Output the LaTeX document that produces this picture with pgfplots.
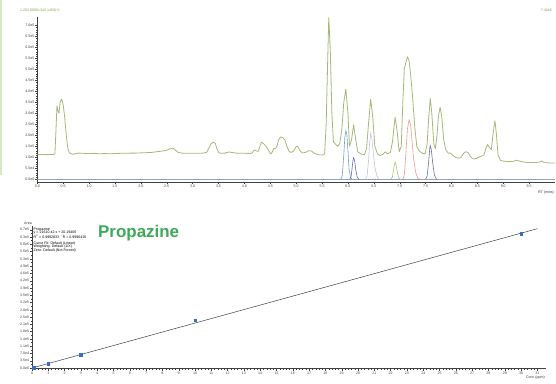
\documentclass[border=0pt]{standalone}
\usepackage{fontspec}
\setmainfont{Liberation Sans}
\usepackage{pgfplots}
\pgfplotsset{compat=1.18}
\definecolor{trace}{RGB}{165,184,122}
\definecolor{strip}{RGB}{212,234,196}
\definecolor{pblue}{RGB}{110,160,215}
\definecolor{pdblue}{RGB}{95,110,180}
\definecolor{pgrey}{RGB}{195,195,218}
\definecolor{pgreen}{RGB}{170,195,130}
\definecolor{psalmon}{RGB}{235,160,140}
\definecolor{pslate}{RGB}{105,110,155}
\definecolor{basel}{RGB}{140,165,200}
\definecolor{lbl}{RGB}{130,160,80}
\definecolor{propgreen}{RGB}{60,170,90}
\definecolor{mark}{RGB}{55,110,190}
\newcommand{\tk}{\fontsize{3.6}{4}\selectfont}
\begin{document}
\begin{tikzpicture}[x=1bp,y=1bp]
\path[use as bounding box] (0,0) rectangle (556,383);
\fill[strip] (0,208) rectangle (2,383);
\node[anchor=base west, text=lbl, font=\tk, inner sep=0] at (20,372) {1:202.0800>343.1459(+)};
\node[anchor=base east, text=lbl, font=\tk, inner sep=0] at (552,372) {7.40e5};
\begin{axis}[
  at={(37.3bp,201bp)}, anchor=south west, scale only axis,
  width=517.7bp, height=165bp,
  xmin=0, xmax=10.0, ymin=-0.123, ymax=7.377,
  axis lines=left, axis line style={-, black!75, line width=0.4bp},
  tick align=outside, major tick length=2bp, minor tick length=1.2bp,
  tick style={black!75, line width=0.3bp},
  scaled ticks=false,
  xtick={0,0.5,...,9.6},
  xticklabels={0.0,0.5,1.0,1.5,2.0,2.5,3.0,3.5,4.0,4.5,5.0,5.5,6.0,6.5,7.0,7.5,8.0,8.5,9.0,9.5},
  minor x tick num=4,
  ytick={0,0.5,...,7.01},
  yticklabels={0.0e0,5.0e4,1.0e5,1.5e5,2.0e5,2.5e5,3.0e5,3.5e5,4.0e5,4.5e5,5.0e5,5.5e5,6.0e5,6.5e5,7.0e5},
  minor y tick num=4,
  tick label style={font=\tk, text=black!75, inner sep=0.8bp},
]
\addplot[basel, line width=0.6bp] coordinates {(0,0) (10,0)};
\addplot[pblue, line width=0.6bp] coordinates {(5.86,0) (5.89,0.15) (5.92,1.1) (5.94,1.9) (5.96,2.2) (5.98,2.05) (6.00,1.3) (6.02,0.5) (6.05,0.08) (6.08,0)};
\addplot[pdblue, line width=0.6bp] coordinates {(6.03,0) (6.06,0.1) (6.08,0.5) (6.10,0.9) (6.11,0.98) (6.13,0.85) (6.15,0.45) (6.18,0.1) (6.21,0)};
\addplot[pgrey, line width=0.6bp] coordinates {(6.34,0) (6.37,0.15) (6.40,0.9) (6.42,1.7) (6.44,2.09) (6.46,1.9) (6.49,1.2) (6.52,0.55) (6.56,0.15) (6.60,0)};
\addplot[pgreen, line width=0.6bp] coordinates {(6.83,0) (6.86,0.1) (6.88,0.45) (6.91,0.79) (6.93,0.65) (6.96,0.25) (6.99,0.03) (7.02,0)};
\addplot[psalmon, line width=0.6bp] coordinates {(7.06,0) (7.09,0.2) (7.12,1.2) (7.15,2.3) (7.18,2.7) (7.21,2.5) (7.24,1.7) (7.27,0.9) (7.31,0.3) (7.35,0.05) (7.40,0)};
\addplot[pslate, line width=0.6bp] coordinates {(7.50,0) (7.53,0.15) (7.56,0.8) (7.58,1.4) (7.59,1.53) (7.61,1.35) (7.64,0.7) (7.67,0.2) (7.71,0)};
\addplot[trace, line width=0.8bp, line join=round] coordinates {
(0.00,1.12) (0.10,1.13) (0.20,1.12) (0.30,1.13) (0.34,1.15) (0.36,2.2) (0.38,3.35) (0.40,3.1) (0.42,3.0) (0.44,3.5) (0.47,3.65) (0.50,3.4) (0.53,2.8) (0.56,2.0) (0.59,1.4) (0.62,1.2) (0.66,1.15) (0.70,1.14) (0.75,1.17) (0.80,1.19) (0.90,1.18) (1.00,1.17) (1.10,1.18) (1.20,1.16) (1.30,1.17) (1.40,1.16) (1.50,1.17) (1.60,1.18) (1.70,1.18) (1.80,1.19) (1.90,1.19) (2.00,1.20) (2.10,1.21) (2.20,1.22) (2.30,1.25) (2.40,1.28) (2.50,1.32) (2.56,1.38) (2.62,1.42) (2.67,1.32) (2.72,1.22) (2.80,1.19) (2.90,1.18) (3.00,1.18) (3.10,1.18) (3.20,1.19) (3.27,1.22) (3.31,1.40) (3.35,1.60) (3.40,1.69) (3.44,1.62) (3.47,1.38) (3.51,1.20) (3.55,1.18) (3.62,1.19) (3.70,1.24) (3.76,1.22) (3.85,1.19) (3.95,1.18) (4.05,1.18) (4.10,1.16) (4.15,1.20) (4.19,1.33) (4.23,1.29) (4.27,1.27) (4.30,1.50) (4.33,1.69) (4.37,1.62) (4.42,1.50) (4.47,1.30) (4.51,1.15) (4.54,1.25) (4.57,1.40) (4.60,1.40) (4.63,1.50) (4.66,1.80) (4.70,1.92) (4.74,1.90) (4.78,1.80) (4.82,1.50) (4.86,1.28) (4.90,1.22) (4.95,1.28) (5.00,1.48) (5.03,1.50) (5.07,1.30) (5.12,1.20) (5.18,1.22) (5.24,1.30) (5.30,1.28) (5.35,1.18) (5.42,1.12) (5.50,1.10) (5.55,1.15) (5.58,2.5) (5.61,5.5) (5.63,7.35) (5.66,5.8) (5.69,3.0) (5.72,1.70) (5.76,1.60) (5.80,1.50) (5.84,1.62) (5.88,2.2) (5.92,3.5) (5.96,4.10) (6.00,3.0) (6.03,1.50) (6.07,1.80) (6.11,2.48) (6.15,1.80) (6.19,1.25) (6.25,1.15) (6.32,1.12) (6.36,1.40) (6.40,2.6) (6.44,3.64) (6.48,2.8) (6.52,1.50) (6.57,1.15) (6.62,1.08) (6.68,1.14) (6.72,1.25) (6.76,1.16) (6.82,1.22) (6.86,1.70) (6.91,2.82) (6.95,2.2) (6.99,1.25) (7.03,1.50) (7.06,3.5) (7.09,5.04) (7.13,5.40) (7.15,5.57) (7.18,5.40) (7.21,4.8) (7.25,3.7) (7.29,2.4) (7.33,1.50) (7.38,1.28) (7.44,1.18) (7.49,1.16) (7.53,1.6) (7.56,2.8) (7.59,3.68) (7.62,3.0) (7.66,1.6) (7.69,1.40) (7.72,2.0) (7.75,2.9) (7.78,3.27) (7.81,2.9) (7.85,1.8) (7.89,1.35) (7.94,1.18) (7.98,1.20) (8.02,1.10) (8.08,1.00) (8.13,0.96) (8.18,0.98) (8.24,1.20) (8.28,1.25) (8.32,1.22) (8.36,1.05) (8.42,0.92) (8.48,0.95) (8.54,1.02) (8.58,1.05) (8.63,1.12) (8.67,1.45) (8.70,1.58) (8.73,1.45) (8.77,1.35) (8.81,2.2) (8.84,2.66) (8.87,2.0) (8.90,1.1) (8.95,0.85) (9.00,0.83) (9.10,0.80) (9.20,0.82) (9.26,0.87) (9.32,0.82) (9.40,0.78) (9.50,0.76) (9.60,0.76) (9.70,0.78) (9.74,0.83) (9.78,0.78) (9.85,0.75) (9.92,0.74) (10.0,0.74)};
\end{axis}
\node[anchor=base east, font=\tk, text=black!80, inner sep=0] at (554,190) {RT (mins)};
% bottom panel
\node[anchor=base west, font=\fontsize{17}{20}\selectfont\bfseries, text=propgreen, inner sep=0] at (98,145.3) {Propazine};
\begin{axis}[
  at={(32bp,14.4bp)}, anchor=south west, scale only axis,
  width=513.5bp, height=142.6bp,
  xmin=0, xmax=31.5, ymin=-2900, ymax=682800,
  axis lines=left, axis line style={-, black!75, line width=0.4bp},
  tick align=outside, major tick length=2bp, minor tick length=1.2bp,
  tick style={black!75, line width=0.3bp},
  scaled ticks=false,
  xtick={0,1,...,31},
  xticklabels={0,1,2,3,4,5,6,7,8,9,10,11,12,13,14,15,16,17,18,19,20,21,22,23,24,25,26,27,28,29,30,31},
  minor x tick num=4,
  ytick={0,35000,...,665000},
  yticklabels={0.0e0,3.5e4,7.0e4,1.1e5,1.4e5,1.8e5,2.1e5,2.5e5,2.8e5,3.2e5,3.5e5,3.9e5,4.2e5,4.6e5,4.9e5,5.3e5,5.6e5,6.0e5,6.3e5,6.7e5},
  minor y tick num=1,
  tick label style={font=\tk, text=black!75, inner sep=0.8bp},
]
\addplot[black!75, line width=0.5bp] coordinates {(0,20.19) (31,669943)};
\addplot[only marks, mark=square*, mark size=1.3bp, mark options={draw=mark, fill=mark}] coordinates {(0.1,2180) (1,20500) (3,65000) (10,230000) (30,645000)};
\end{axis}
\node[anchor=base, font=\tk, text=black!80, inner sep=0] at (28,159) {Area};
\node[anchor=north west, font=\tk, text=black, inner sep=0, align=left] at (33.5,155.5) {Propazine\\[-0.6bp]y = 21610.42 x + 20.19406\\[-0.6bp]R\textsuperscript{2} = 0.9992833\quad R = 0.9996416};
\node[anchor=north west, font=\tk, text=black, inner sep=0, align=left] at (33.5,141.5) {Curve Fit: Default (Linear)\\[-0.6bp]Weighting: Default (1/X)\\[-0.6bp]Zero: Default (Not Forced)};
\node[anchor=base east, font=\tk, text=black!80, inner sep=0] at (545,5) {Conc (ppm)};
\end{tikzpicture}
\end{document}
